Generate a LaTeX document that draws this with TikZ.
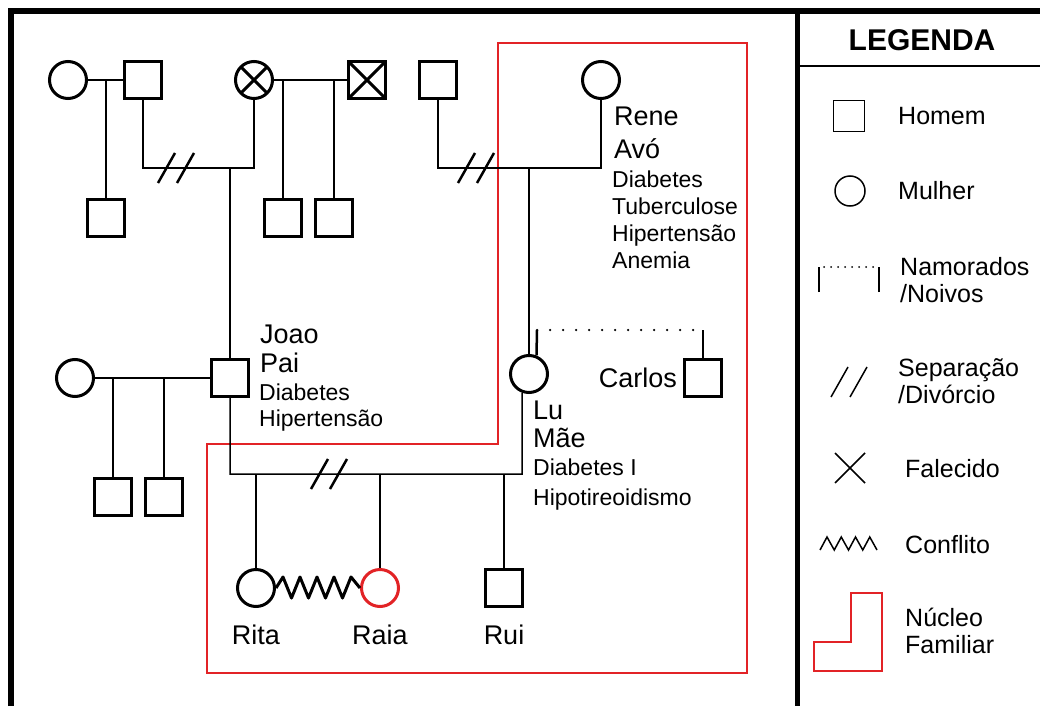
\documentclass[tikz,border=0pt]{standalone}
\usepackage{fontspec}
\setmainfont{Liberation Sans}
\usetikzlibrary{positioning}
\definecolor{nucleo}{RGB}{226,35,38}

\tikzset{
  homem/.style={draw, line width=3pt, minimum size=37pt, inner sep=0pt},
  mulher/.style={draw, circle, line width=3pt, minimum size=37pt, inner sep=0pt},
  falecido/.style={path picture={\draw[line width=3pt]
      (path picture bounding box.north west) -- (path picture bounding box.south east)
      (path picture bounding box.north east) -- (path picture bounding box.south west);}},
  liga/.style={line width=1.5pt},
  noivado/.style={line width=2.5pt},
  nome/.style={anchor=north west, inner sep=0pt, align=left, font=\fontsize{27}{29}\selectfont},
  doenca/.style={anchor=north west, inner sep=0pt, align=left, font=\fontsize{23}{27}\selectfont},
  legtxt/.style={anchor=west, inner sep=0pt, align=left, font=\fontsize{25}{27}\selectfont},
}

% two slashes for a separation
\newcommand{\separa}[3][2.5pt]{\draw[line width=#1, shift={(#2,#3)}] (-18,15) -- (-1,-15) (1,15) -- (18,-15);}

\begin{document}
\begin{tikzpicture}[x=1pt,y=-1pt]
    \useasboundingbox[fill=white] (0,0) rectangle (1040,706);

    % frame
    \draw[line width=6pt] (11,706) -- (11,11) -- (1040,11);
    \draw[line width=5pt] (797,11) -- (797,706);

    % nucleo familiar
    \draw[nucleo, line width=2.5pt] (498,43) -- (747,43) -- (747,673) -- (207,673)
        -- (207,444) -- (498,444) -- cycle;

    % first generation
    \node[mulher] (f1) at (68,80) {};
    \node[homem] (m1) at (143,80) {};
    \node[homem] (c1) at (106,218) {};
    \node[mulher, falecido] (x1) at (254,80) {};
    \node[homem, falecido] (x2) at (367,80) {};
    \node[homem] (s3) at (283,218) {};
    \node[homem] (s4) at (334,218) {};
    \node[homem] (m3) at (438,80) {};
    \node[mulher] (rene) at (601,80) {};

    \coordinate (k1) at (106,80);
    \coordinate (k3) at (283,80);
    \coordinate (k4) at (334,80);
    \coordinate (u1) at (143,168);
    \coordinate (u2) at (230,168);
    \coordinate (u3) at (438,168);
    \coordinate (u4) at (529,168);

    \draw[liga] (f1) -- (m1);
    \draw[liga] (k1) -- (c1);
    \draw[liga] (m1) -- (u1) -| (x1);
    \separa{176}{168}
    \draw[liga] (x1) -- (x2);
    \draw[liga] (k3) -- (s3);
    \draw[liga] (k4) -- (s4);
    \draw[liga] (m3) -- (u3) -| (rene);
    \separa{476}{168}

    \node[nome] (nrene) at (614,107) {Rene\\[4pt]Avó};
    \node[doenca] (drene) at (612,171) {Diabetes\\Tuberculose\\Hipertensão\\Anemia};

    % second generation
    \node[mulher] (f2) at (75,378) {};
    \node[homem] (joao) at (230,378) {};
    \node[homem] (s5) at (113,497) {};
    \node[homem] (s6) at (164,497) {};
    \node[mulher] (lu) at (529,374) {};
    \node[homem] (carlos) at (703,378) {};

    \coordinate (k5) at (113,378);
    \coordinate (k6) at (164,378);
    \coordinate (n1) at (537,330);
    \coordinate (n2) at (703,330);

    \draw[liga] (u2) -- (joao);
    \draw[liga] (u4) -- (lu);
    \draw[liga] (f2) -- (joao);
    \draw[liga] (k5) -- (s5);
    \draw[liga] (k6) -- (s6);

    % namorados
    \draw[noivado] (lu.68) -- (n1);
    \draw[noivado, line cap=round, dash pattern=on 0pt off 13pt] (n1) -- (n2);
    \draw[noivado] (n2) -- (carlos);

    \node[nome] (njoao) at (260,325) {Joao\\Pai};
    \node[doenca, font=\fontsize{23}{26}\selectfont] (djoao) at (259,384) {Diabetes\\Hipertensão};
    \node[nome, font=\fontsize{27}{28}\selectfont] (nlu) at (533,401) {Lu\\Mãe};
    \node[doenca, font=\fontsize{23}{30}\selectfont] (dlu) at (533,459) {Diabetes I\\Hipotireoidismo};
    \node[inner sep=0pt, font=\fontsize{27}{29}\selectfont, left=6pt of carlos] (tcarlos) {Carlos};

    % third generation
    \node[mulher] (rita) at (256,588) {};
    \node[mulher, draw=nucleo] (raia) at (380,588) {};
    \node[homem] (rui) at (504,588) {};

    \coordinate (u5) at (522,474);
    \coordinate (k7) at (256,474);
    \coordinate (k8) at (380,474);
    \coordinate (k9) at (504,474);

    \draw[liga] (joao) |- (u5) -- (lu.250);
    \separa{329}{474}
    \draw[liga] (k7) -- (rita);
    \draw[liga] (k8) -- (raia);
    \draw[liga] (k9) -- (rui);

    % conflito
    \draw[line width=3pt, line join=round] (rita.east) -- ++(7,-11)
        \foreach \i in {1,...,4} {-- ++(8.5,21) -- ++(8.5,-21)} -- (raia.west);

    \node[inner sep=0pt, font=\fontsize{27}{29}\selectfont, below=17pt of rita] (trita) {Rita};
    \node[inner sep=0pt, font=\fontsize{27}{29}\selectfont, below=17pt of raia] (traia) {Raia};
    \node[inner sep=0pt, font=\fontsize{27}{29}\selectfont, below=17pt of rui] (trui) {Rui};

    % legenda
    \node[font=\fontsize{30}{32}\selectfont\bfseries, inner sep=0pt] (leg) at (922,40) {LEGENDA};
    \draw[line width=1.2pt] (797,66) -- (1040,66);

    \node[draw, line width=1.5pt, minimum size=31pt, inner sep=0pt] (lhomem) at (849,116) {};
    \node[legtxt] (thomem) at (898,116) {Homem};

    \node[draw, circle, line width=1.5pt, minimum size=30pt, inner sep=0pt] (lmulher) at (850,191) {};
    \node[legtxt] (tmulher) at (898,191) {Mulher};

    \draw[line width=2pt] (819,292) -- (819,267) (879,292) -- (879,267);
    \draw[line width=2pt, line cap=round, dash pattern=on 0pt off 7pt] (824,267) -- (876,267);
    \node[legtxt] (tnamorados) at (900,280) {Namorados\\/Noivos};

    \separa[1.5pt]{849}{382}
    \node[legtxt] (tseparacao) at (898,381) {Separação\\/Divórcio};

    \draw[line width=1.5pt] (835,453) -- (865,483) (865,453) -- (835,483);
    \node[legtxt] (tfalecido) at (905,469) {Falecido};

    \draw[line width=1.5pt] (820,550) \foreach \i in {1,...,4} {-- ++(7,-13) -- ++(7.25,13)};
    \node[legtxt] (tconflito) at (905,545) {Conflito};

    \draw[nucleo, line width=1.5pt] (851,593) -- (882,593) -- (882,671) -- (814,671)
        -- (814,642) -- (851,642) -- cycle;
    \node[legtxt] (tnucleo) at (905,631) {Núcleo\\Familiar};
\end{tikzpicture}
\end{document}
